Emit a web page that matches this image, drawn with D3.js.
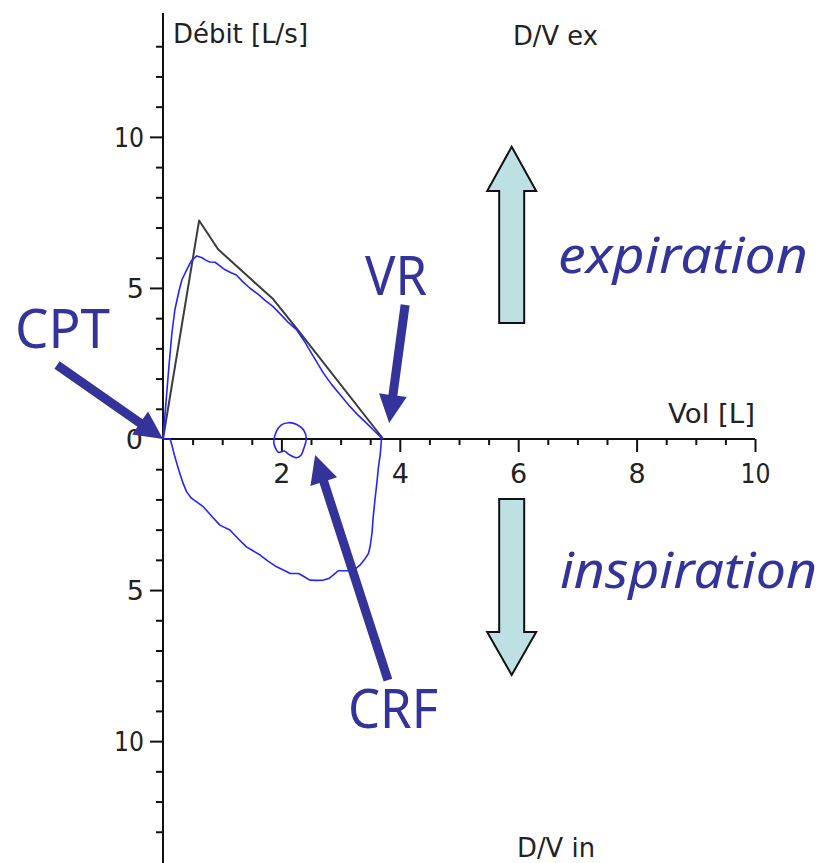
<!DOCTYPE html>
<html>
<head>
<meta charset="utf-8">
<script src="https://cdn.jsdelivr.net/npm/d3@7/dist/d3.min.js"></script>
<style>
  html, body { margin: 0; padding: 0; background: #fff; }
  svg { display: block; }
</style>
</head>
<body>
<svg id="chart" width="823" height="863"></svg>
<script>
// Flow-volume loop: expiration above the volume axis, inspiration below.

// Axis ticks
const xMajorTicks = [2, 4, 6, 8, 10];
const yMajorTicks = [10, 5, -5, -10];
const yTickLabels = ["10", "5", "5", "10"];

// Predicted (reference) expiratory curve
const predVol  = [0, 0.61, 0.93, 1.86, 2.3, 3.72];
const predFlow = [0, 7.23, 6.28, 4.63, 3.55, 0];

// Measured expiration, from CPT to VR
const expVol  = [0, 0.05, 0.1, 0.15, 0.2, 0.27, 0.32, 0.4, 0.48, 0.57, 0.66, 0.72, 0.79, 0.88, 0.95, 1.05, 1.15, 1.24, 1.35, 1.47, 1.6, 1.72, 1.86, 2.0, 2.12, 2.26, 2.4, 2.55, 2.71, 2.85, 3.0, 3.16, 3.3, 3.45, 3.58, 3.67, 3.69];
const expFlow = [0, 1.2, 2.4, 3.5, 4.27, 4.9, 5.27, 5.6, 5.9, 6.06, 6.0, 5.92, 5.86, 5.85, 5.75, 5.6, 5.5, 5.43, 5.2, 4.99, 4.8, 4.6, 4.38, 4.1, 3.85, 3.61, 3.2, 2.7, 2.18, 1.8, 1.45, 1.07, 0.78, 0.5, 0.25, 0.08, 0];

// Measured inspiration, from VR back to CPT (negative flow)
const inspVol  = [3.69, 3.67, 3.64, 3.61, 3.58, 3.55, 3.53, 3.5, 3.47, 3.4, 3.33, 3.25, 3.16, 2.96, 2.88, 2.8, 2.71, 2.6, 2.48, 2.38, 2.29, 2.15, 2.05, 1.92, 1.78, 1.64, 1.52, 1.41, 1.27, 1.13, 0.96, 0.82, 0.68, 0.58, 0.48, 0.4, 0.34, 0.27, 0.2, 0.15, 0.12, 0];
const inspFlow = [0, -0.5, -0.92, -1.5, -2.02, -2.6, -3.12, -3.55, -3.79, -4.0, -4.17, -4.3, -4.36, -4.36, -4.5, -4.62, -4.67, -4.68, -4.67, -4.55, -4.45, -4.45, -4.35, -4.23, -4.05, -3.84, -3.7, -3.57, -3.3, -3.01, -2.85, -2.55, -2.24, -2.1, -1.96, -1.75, -1.47, -1.05, -0.59, -0.2, 0, 0];

// Tidal breathing loop around CRF
const tidalVol  = [2.12, 2.0, 1.92, 1.87, 1.9, 1.95, 2.05, 2.12, 2.26, 2.33, 2.37, 2.42, 2.38, 2.26];
const tidalFlow = [0.54, 0.47, 0.27, -0.09, -0.3, -0.44, -0.4, -0.5, -0.62, -0.54, -0.36, 0.02, 0.28, 0.48];

// Annotations: label, arrow tail and tip (in volume / flow units)
const pointerLabels = ["CPT", "VR", "CRF"];
const pointerTail = [[-1.79, 2.45], [4.09, 4.44], [3.80, -7.98]];
const pointerTip  = [[0, 0], [3.82, 0.53], [2.57, -0.53]];

const svg = d3.select("#chart");

const x = d3.scaleLinear().domain([0, 10]).range([163, 755]);
const y = d3.scaleLinear().domain([-14.1, 14.1]).range([865, 13]);

const axisColor = "#111";
const labelFont = "'DejaVu Sans', Verdana, sans-serif";
const noteFont = "'Comic Sans MS', 'Noto Sans', Lato, sans-serif";
const noteColor = "#333399";

// ---- Axes ----
function styleAxis(g) {
  g.selectAll("line, path").attr("stroke", axisColor).attr("stroke-width", 2);
  g.selectAll("text").attr("font-family", labelFont).attr("font-size", 27).attr("fill", "#222");
}

const gxMinor = svg.append("g").attr("transform", `translate(0,${y(0)})`)
  .call(d3.axisBottom(x).tickValues(d3.range(0.5, 10.01, 0.5).filter(v => v % 2 !== 0)).tickSize(6).tickSizeOuter(0).tickFormat(""));
gxMinor.select("path.domain").remove();
const gx = svg.append("g").attr("transform", `translate(0,${y(0)})`)
  .call(d3.axisBottom(x).tickValues(xMajorTicks).tickSize(13).tickSizeOuter(0).tickPadding(12).tickFormat(d3.format("d")));
gx.select("path.domain").attr("d", `M${x(0)},0H${x(10)}`);
styleAxis(gxMinor);
styleAxis(gx);

const gyMinor = svg.append("g").attr("transform", `translate(${x(0)},0)`)
  .call(d3.axisLeft(y).tickValues(d3.range(-13, 14).filter(v => v !== 0 && v % 5 !== 0)).tickSize(7).tickSizeOuter(0).tickFormat(""));
gyMinor.select("path.domain").remove();
const gy = svg.append("g").attr("transform", `translate(${x(0)},0)`)
  .call(d3.axisLeft(y).tickValues(yMajorTicks).tickSize(13).tickSizeOuter(0).tickPadding(6)
    .tickFormat((d, i) => yTickLabels[i]));
gy.select("path.domain").attr("d", `M0,${y(14.1)}V${y(-14.1)}`);
styleAxis(gyMinor);
styleAxis(gy);
gy.selectAll("text").attr("dy", "0.36em");
gy.selectAll("text").filter(function () { return this.textContent === "10"; })
  .attr("textLength", 30).attr("lengthAdjust", "spacingAndGlyphs");
gx.selectAll("text").filter(function () { return this.textContent === "10"; })
  .attr("textLength", 30).attr("lengthAdjust", "spacingAndGlyphs");

// Origin label
svg.append("text").attr("x", x(0) - 20).attr("y", y(0)).attr("dy", "0.36em")
  .attr("text-anchor", "end").attr("font-family", labelFont).attr("font-size", 27).attr("fill", "#222").text("0");

// Axis titles
function title(txt, px, py, len) {
  svg.append("text").attr("x", px).attr("y", py).attr("font-family", labelFont).attr("font-size", 27)
    .attr("fill", "#222").attr("textLength", len).attr("lengthAdjust", "spacingAndGlyphs").text(txt);
}
title("Débit [L/s]", 173, 43, 135);
title("Vol [L]", 668, 423, 87);
title("D/V ex", 513, 45, 85);
title("D/V in", 517, 857, 78);

// ---- Curves ----
const line = d3.line().x(d => x(d[0])).y(d => y(d[1]));

svg.append("path")
  .attr("d", line(d3.zip(predVol, predFlow)))
  .attr("fill", "none").attr("stroke", "#3c3c3c").attr("stroke-width", 2).attr("stroke-linejoin", "round");

svg.append("path")
  .attr("d", line(d3.zip(expVol, expFlow).concat(d3.zip(inspVol, inspFlow))))
  .attr("fill", "none").attr("stroke", "#2424ff").attr("stroke-width", 1.6).attr("stroke-linejoin", "round");

svg.append("path")
  .attr("d", d3.line().x(d => x(d[0])).y(d => y(d[1])).curve(d3.curveCatmullRomClosed)(d3.zip(tidalVol, tidalFlow)))
  .attr("fill", "none").attr("stroke", "#2424ff").attr("stroke-width", 1.6);

// ---- Block arrows for flow direction ----
function blockArrow(cx, yStart, yBase, yTip) {
  const sw = 12.5, hw = 24.5;
  const X = x(cx);
  const pts = [
    [X - sw, y(yStart)], [X - sw, y(yBase)], [X - hw, y(yBase)], [X, y(yTip)],
    [X + hw, y(yBase)], [X + sw, y(yBase)], [X + sw, y(yStart)]
  ];
  svg.append("path").attr("d", "M" + pts.map(p => p.join(",")).join("L") + "Z")
    .attr("fill", "#bde0e3").attr("stroke", "#111").attr("stroke-width", 2).attr("stroke-linejoin", "miter");
}
blockArrow(5.89, 3.84, 8.21, 9.67);
blockArrow(5.89, -1.99, -6.39, -7.81);

svg.append("text").attr("x", 558).attr("y", 273).attr("font-family", noteFont).attr("font-style", "italic")
  .attr("font-size", 50).attr("fill", noteColor).attr("textLength", 250).attr("lengthAdjust", "spacingAndGlyphs")
  .text("expiration");
svg.append("text").attr("x", 560).attr("y", 588).attr("font-family", noteFont).attr("font-style", "italic")
  .attr("font-size", 50).attr("fill", noteColor).attr("textLength", 257).attr("lengthAdjust", "spacingAndGlyphs")
  .text("inspiration");

// ---- Pointer arrows ----
function pointer(tail, tip) {
  const x0 = x(tail[0]), y0 = y(tail[1]), x1 = x(tip[0]), y1 = y(tip[1]);
  const dx = x1 - x0, dy = y1 - y0, L = Math.hypot(dx, dy);
  const ux = dx / L, uy = dy / L, nx = -uy, ny = ux;
  const headL = 28, headW = 14, sw = 4.5;
  const bx = x1 - ux * headL, by = y1 - uy * headL;
  const pts = [
    [x0 + nx * sw, y0 + ny * sw], [bx + nx * sw, by + ny * sw], [bx + nx * headW, by + ny * headW],
    [x1, y1], [bx - nx * headW, by - ny * headW], [bx - nx * sw, by - ny * sw], [x0 - nx * sw, y0 - ny * sw]
  ];
  svg.append("path").attr("d", "M" + pts.map(p => p.join(",")).join("L") + "Z").attr("fill", noteColor);
}
pointerTail.forEach((t, i) => pointer(t, pointerTip[i]));

const labelPos = [[15, 348, 95], [365, 295, 62], [348, 728, 90]];
pointerLabels.forEach((lab, i) => {
  svg.append("text").attr("x", labelPos[i][0]).attr("y", labelPos[i][1])
    .attr("font-family", noteFont).attr("font-size", 54).attr("fill", noteColor)
    .attr("textLength", labelPos[i][2]).attr("lengthAdjust", "spacingAndGlyphs").text(lab);
});
</script>
</body>
</html>
